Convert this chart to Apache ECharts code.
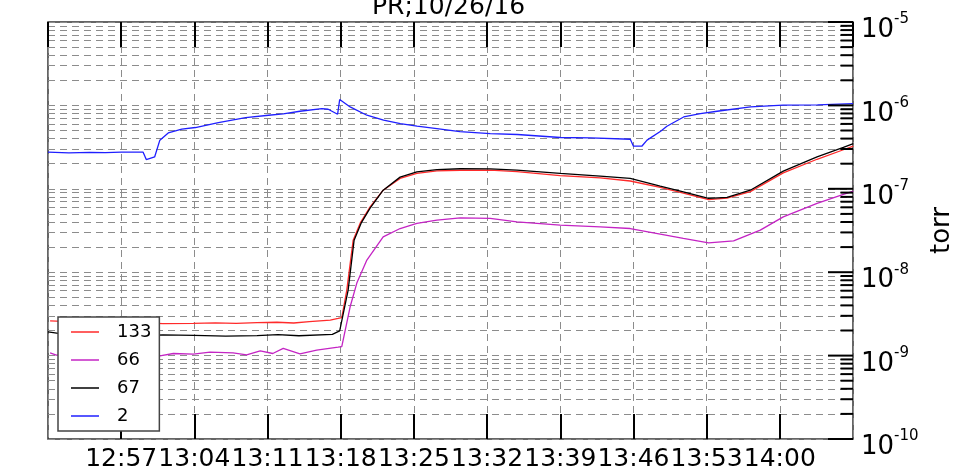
<!DOCTYPE html>
<html>
<head>
<meta charset="utf-8">
<script src="https://cdn.jsdelivr.net/npm/echarts@6/dist/echarts.min.js"></script>
<style>html,body{margin:0;padding:0;background:#fff;}#c{width:955px;height:469px;}</style>
</head>
<body>
<div id="c"></div>
<script>
// ---- data (time in minutes after 12:50) ----
var xTickLabels = ['12:57','13:04','13:11','13:18','13:25','13:32','13:39','13:46','13:53','14:00'];
var seriesNames = ['133','66','67','2'];

var t133 = [0.2,2.0,5.0,7.0,9.0,11.0,13.9,16.0,18.0,20.0,21.9,23.5,25.0,27.0,27.75,28.1,28.58,29.19,29.86,30.81,32.06,33.68,35.28,37.2,39.43,42.3,44.85,48.99,52.82,55.69,58.56,60.77,63.19,64.95,67.18,70.33,73.56,76.08,77.03];
var v133 = [2.61e-9,2.55e-9,2.49e-9,2.44e-9,2.47e-9,2.42e-9,2.43e-9,2.47e-9,2.44e-9,2.49e-9,2.51e-9,2.46e-9,2.55e-9,2.67e-9,2.79e-9,2.85e-9,6.10e-9,2.42e-8,3.87e-8,6.07e-8,9.63e-8,1.33e-7,1.53e-7,1.64e-7,1.67e-7,1.67e-7,1.61e-7,1.44e-7,1.35e-7,1.24e-7,1.04e-7,8.86e-8,7.41e-8,7.72e-8,9.24e-8,1.55e-7,2.26e-7,2.94e-7,3.24e-7];

var t66 = [0.2,0.8,3.0,6.0,8.5,10.7,12.0,13.9,15.5,17.7,19.0,20.3,21.5,22.5,24.1,25.7,27.75,28.1,28.9,29.54,30.5,32.06,33.68,35.28,37.2,39.43,42.3,44.85,48.99,52.82,55.69,58.56,60.77,63.19,65.58,68.13,70.33,73.56,76.08,77.03];
var v66 = [1.08e-9,1.015e-9,1.06e-9,1.03e-9,1.07e-9,9.95e-10,1.06e-9,1.04e-9,1.10e-9,1.08e-9,1.02e-9,1.14e-9,1.06e-9,1.22e-9,1.05e-9,1.16e-9,1.26e-9,1.28e-9,3.85e-9,7.40e-9,1.40e-8,2.65e-8,3.34e-8,3.84e-8,4.21e-8,4.48e-8,4.42e-8,4.01e-8,3.66e-8,3.50e-8,3.34e-8,2.86e-8,2.54e-8,2.25e-8,2.38e-8,3.19e-8,4.61e-8,6.67e-8,8.55e-8,9.37e-8];

var t67 = [0.0,1.0,3.0,5.5,8.0,11.0,14.0,17.0,20.0,22.0,24.0,27.2,27.9,28.71,29.28,29.95,30.81,32.06,33.68,35.28,37.2,39.43,42.3,44.85,48.99,52.82,55.69,58.56,60.77,63.19,64.95,67.18,70.33,73.56,76.08,77.03];
var v67 = [1.93e-9,1.85e-9,1.76e-9,1.80e-9,1.72e-9,1.77e-9,1.75e-9,1.71e-9,1.74e-9,1.78e-9,1.73e-9,1.80e-9,1.98e-9,6.10e-9,2.42e-8,3.87e-8,5.86e-8,9.63e-8,1.38e-7,1.60e-7,1.70e-7,1.74e-7,1.73e-7,1.67e-7,1.53e-7,1.42e-7,1.33e-7,1.075e-7,9.18e-8,7.66e-8,7.87e-8,9.62e-8,1.63e-7,2.41e-7,3.13e-7,3.49e-7];

var t2 = [0.0,2.0,4.0,5.5,7.0,9.1,9.4,10.2,10.7,11.5,12.8,14.1,16.3,18.9,21.1,22.5,24.1,26.2,26.8,27.7,27.9,28.9,30.5,32.1,33.7,35.3,37.2,39.4,42.3,44.9,49.0,51.9,55.7,56.0,56.8,57.3,58.6,59.2,60.8,62.4,64.0,67.2,70.3,73.6,77.0];
var v2 = [2.75e-7,2.70e-7,2.74e-7,2.71e-7,2.76e-7,2.75e-7,2.24e-7,2.41e-7,3.83e-7,4.68e-7,5.18e-7,5.43e-7,6.23e-7,7.15e-7,7.62e-7,7.90e-7,8.51e-7,9.17e-7,8.99e-7,7.83e-7,1.175e-6,9.58e-7,7.62e-7,6.64e-7,6.06e-7,5.63e-7,5.28e-7,4.85e-7,4.60e-7,4.48e-7,4.12e-7,4.07e-7,3.93e-7,3.24e-7,3.24e-7,3.83e-7,4.90e-7,5.63e-7,7.27e-7,7.99e-7,8.51e-7,9.58e-7,1.005e-6,1.013e-6,1.05e-6];

var decades = [1e-10,1e-9,1e-8,1e-7,1e-6,1e-5];
var mantissas = [1,2,3,4,5,6,7,8,9];

// ---- build ----
var X_MIN = 0, X_MAX = 77;
var MAJOR_TICK_PX = 25, MINOR_TICK_PX = 12.5;

function pairs(t, v){ var out=[]; for (var i=0;i<t.length;i++) out.push([t[i], v[i]]); return out; }
var minorVals = [];
for (var d=0; d<decades.length-1; d++) for (var m=0; m<mantissas.length; m++) minorVals.push(+(mantissas[m]*decades[d]).toPrecision(3));
minorVals.push(1e-5);

var FONT = 'DejaVu Sans';
var colors = ['#ff2a2a','#c424c4','#000000','#1f1fff'];
var datasets = [pairs(t133,v133), pairs(t66,v66), pairs(t67,v67), pairs(t2,v2)];

var series = seriesNames.map(function(n, i){
  return {
    name: n, type: 'line', data: datasets[i], xAxisIndex: 0, yAxisIndex: 0,
    symbol: 'none', showSymbol: false, smooth: false, z: 3,
    lineStyle: { color: colors[i], width: 1.3 }, itemStyle: { color: colors[i] }
  };
});

var chart = echarts.init(document.getElementById('c'), null, {renderer: 'canvas'});
chart.setOption({
  animation: false,
  backgroundColor: '#fff',
  title: {
    text: 'PR;10/26/16', left: 372, top: -5, padding: 0,
    textStyle: { fontFamily: FONT, fontSize: 25, fontWeight: 'normal', color: '#000' }
  },
  grid: {
    left: 48, right: 102, top: 22, bottom: 30, containLabel: false, outerBoundsMode: 'none',
    show: true, borderColor: '#333', borderWidth: 1.5, backgroundColor: 'transparent'
  },
  legend: {
    orient: 'vertical', left: 58, top: 317,
    padding: [6, 8, 6, 13], itemGap: 10, itemWidth: 28, itemHeight: 1.5, icon: 'rect',
    backgroundColor: '#fff', borderColor: '#444', borderWidth: 1.5, borderRadius: 0,
    textStyle: { fontFamily: FONT, fontSize: 18, color: '#000', lineHeight: 18, padding: [0,0,0,13] },
    data: seriesNames
  },
  xAxis: [
    {
      type: 'value', position: 'bottom', min: X_MIN, max: X_MAX, interval: 7,
      axisLine: { show: false },
      axisTick: { show: true, inside: true, length: 25, lineStyle: { color: '#000', width: 2 } },
      axisLabel: {
        show: true, margin: 8, showMinLabel: false, showMaxLabel: false,
        fontFamily: FONT, fontSize: 25, color: '#000',
        formatter: function(v){ var k = Math.round(v/7) - 1; return (k>=0 && k<xTickLabels.length) ? xTickLabels[k] : ''; }
      },
      splitLine: { show: true, lineStyle: { color: '#8c8c8c', width: 1, type: [7,5] } }
    },
    {
      type: 'value', position: 'top', min: X_MIN, max: X_MAX, interval: 7,
      axisLine: { show: false },
      axisTick: { show: true, inside: true, length: 25, lineStyle: { color: '#000', width: 2 } },
      axisLabel: { show: false }, splitLine: { show: false }
    }
  ],
  yAxis: [
    {
      type: 'log', logBase: 10, min: 1e-10, max: 1e-5, position: 'right',
      name: 'torr', nameLocation: 'middle', nameRotate: 90, nameGap: 74,
      nameTextStyle: { fontFamily: FONT, fontSize: 26, color: '#000' },
      axisLine: { show: false },
      axisTick: { show: true, inside: true, length: 1, customValues: minorVals, lineStyle: { color: 'rgba(0,0,0,0)', width: 1 } },
      axisLabel: {
        show: true, margin: 8, customValues: decades,
        formatter: function(v){ var e = Math.round(Math.log(v)/Math.LN10); return '{b|10}{s|' + e + '}'; },
        rich: {
          b: { fontFamily: FONT, fontSize: 26, color: '#000', lineHeight: 26, padding: [17,0,0,0] },
          s: { fontFamily: FONT, fontSize: 15, color: '#000', lineHeight: 15, padding: [7.5,0,12.5,0] }
        }
      },
      splitLine: { show: true, lineStyle: { color: '#8c8c8c', width: 1, type: [7,5] } }
    }
  ],
  series: series
});

// right-axis tick marks placed through the library's own axis scales
try {
  var xRight = chart.convertToPixel({ xAxisIndex: 0 }, X_MAX);
  var tickEls = minorVals.map(function(v){
    var y = chart.convertToPixel({ yAxisIndex: 0 }, v);
    var len = decades.indexOf(v) >= 0 ? MAJOR_TICK_PX : MINOR_TICK_PX;
    return { type: 'line', z: 100, silent: true,
             shape: { x1: xRight - len, y1: y, x2: xRight, y2: y },
             style: { stroke: '#000', lineWidth: 2 } };
  });
  chart.setOption({ graphic: { elements: tickEls } });
} catch (e) {}
</script>
</body>
</html>
